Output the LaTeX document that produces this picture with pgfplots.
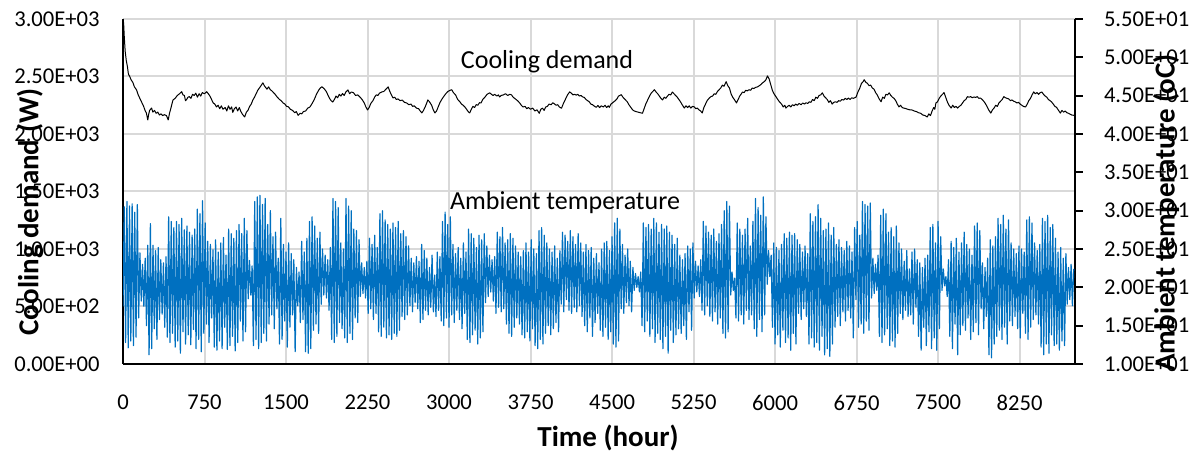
\documentclass[border=0pt]{standalone}
\usepackage{pgfplots}
\pgfplotsset{compat=1.18}
\usepackage{pgfplotstable}
\usepackage{fontspec}
\setmainfont{Carlito}
\definecolor{tblue}{HTML}{0070C0}
\definecolor{gridgray}{HTML}{D9D9D9}

\pgfplotstableread[row sep=\\]{T\\
17.5\\30.5\\12.8\\31.2\\12.1\\30.6\\13.0\\30.9\\12.4\\29.8\\
13.5\\30.8\\16.0\\24.5\\18.2\\23.0\\17.5\\23.8\\15.0\\25.5\\
11.2\\28.3\\12.0\\25.5\\14.6\\24.8\\13.2\\25.2\\15.8\\23.6\\
16.5\\23.2\\14.8\\24.0\\13.5\\29.2\\12.8\\28.6\\14.0\\27.8\\
12.2\\28.6\\13.0\\28.2\\11.4\\29.0\\14.2\\27.5\\12.6\\28.0\\
13.8\\27.2\\12.5\\26.8\\14.5\\27.6\\12.0\\30.2\\13.2\\29.6\\
11.6\\31.3\\14.0\\28.4\\15.2\\26.0\\12.8\\25.6\\16.0\\24.9\\
12.2\\26.2\\11.8\\24.6\\13.0\\25.8\\12.0\\26.5\\14.8\\24.2\\
11.9\\27.6\\12.4\\27.0\\13.6\\26.4\\11.7\\27.4\\12.8\\28.2\\
15.6\\27.0\\13.0\\29.0\\14.2\\27.4\\18.5\\23.5\\19.0\\22.8\\
12.4\\31.2\\13.2\\31.8\\12.0\\32.0\\12.8\\30.8\\14.0\\31.6\\
13.0\\28.2\\15.2\\30.0\\16.4\\26.6\\14.6\\27.2\\17.2\\23.8\\
12.6\\29.0\\13.2\\25.6\\15.6\\24.6\\12.2\\25.8\\14.8\\24.4\\
16.4\\23.6\\11.6\\22.6\\17.6\\22.0\\15.4\\26.0\\15.8\\24.6\\
11.6\\26.4\\11.4\\28.6\\12.0\\29.2\\14.4\\28.0\\15.2\\26.4\\
14.0\\27.2\\17.8\\25.0\\19.0\\24.2\\18.6\\23.6\\17.0\\25.2\\
13.2\\31.6\\12.8\\31.2\\13.6\\30.4\\15.4\\25.8\\14.6\\25.0\\
13.4\\31.6\\12.8\\30.6\\14.0\\30.0\\13.2\\27.6\\16.0\\27.4\\
15.4\\26.2\\18.8\\23.2\\19.2\\22.6\\18.6\\23.4\\16.6\\26.4\\
17.2\\25.6\\15.8\\26.8\\16.6\\25.2\\14.2\\29.6\\13.6\\30.0\\
14.8\\28.8\\13.4\\28.2\\13.8\\27.6\\13.2\\28.4\\14.0\\27.8\\
13.6\\28.6\\14.4\\27.0\\16.2\\27.4\\15.8\\26.6\\16.4\\25.4\\
17.6\\23.8\\16.8\\23.2\\18.0\\24.0\\17.2\\23.4\\15.4\\25.6\\
15.8\\24.8\\17.0\\23.8\\16.4\\22.6\\17.4\\24.2\\16.8\\21.6\\
16.2\\24.6\\17.0\\24.0\\15.6\\28.6\\15.0\\29.8\\16.0\\28.2\\
14.8\\29.2\\16.4\\25.6\\15.4\\24.4\\17.0\\25.2\\15.8\\23.8\\
14.6\\25.8\\16.6\\24.6\\13.2\\27.6\\12.8\\27.0\\13.8\\26.4\\
14.4\\25.2\\12.6\\26.8\\13.4\\26.2\\14.2\\27.0\\18.0\\25.4\\
18.8\\24.2\\19.4\\23.6\\18.2\\24.0\\16.6\\27.2\\17.4\\26.6\\
16.8\\27.8\\17.2\\25.8\\15.2\\26.2\\14.0\\27.0\\13.6\\26.4\\
14.8\\25.4\\16.0\\24.6\\15.2\\24.0\\13.8\\24.8\\13.4\\25.8\\
14.2\\24.6\\13.0\\26.2\\14.6\\25.0\\12.4\\24.4\\12.0\\27.4\\
13.2\\27.8\\12.6\\26.8\\14.0\\25.8\\15.0\\25.0\\13.8\\24.6\\
14.6\\25.4\\15.4\\23.8\\14.2\\24.8\\17.8\\27.2\\16.8\\26.8\\
18.4\\26.0\\17.0\\27.4\\16.6\\26.6\\17.4\\25.6\\16.8\\27.0\\
17.6\\25.8\\16.2\\24.6\\15.0\\25.6\\14.2\\24.8\\16.0\\25.2\\
13.6\\23.8\\15.4\\24.4\\16.6\\23.2\\14.4\\25.0\\13.6\\25.8\\
14.8\\26.0\\13.2\\24.8\\14.2\\26.6\\12.6\\28.4\\12.2\\29.0\\
13.0\\27.6\\17.2\\25.6\\16.6\\24.2\\18.0\\25.0\\17.6\\23.4\\
16.8\\22.6\\19.6\\21.8\\20.0\\21.4\\19.4\\22.0\\15.0\\28.4\\
14.2\\27.8\\15.6\\28.2\\13.6\\27.6\\14.6\\29.0\\12.8\\28.4\\
14.0\\27.2\\13.2\\28.2\\12.0\\27.6\\13.6\\28.0\\11.4\\27.2\\
14.4\\26.8\\12.8\\25.6\\13.8\\26.4\\14.6\\24.2\\14.0\\23.6\\
15.0\\24.4\\13.2\\25.4\\16.8\\25.0\\14.4\\25.8\\18.6\\23.4\\
19.4\\22.8\\18.8\\23.6\\17.0\\28.6\\16.4\\28.0\\17.6\\27.2\\
16.2\\26.8\\15.6\\27.6\\16.8\\26.0\\15.2\\27.0\\16.0\\28.2\\
14.0\\30.0\\13.4\\31.2\\14.2\\30.6\\19.0\\22.0\\19.6\\21.2\\
16.0\\28.4\\15.6\\27.6\\16.4\\26.8\\15.2\\27.6\\17.0\\29.0\\
15.8\\25.4\\16.4\\28.6\\14.6\\31.6\\13.6\\30.4\\15.8\\29.4\\
14.2\\31.8\\16.4\\29.2\\20.4\\24.8\\21.4\\24.2\\14.8\\25.8\\
12.6\\25.2\\13.8\\24.8\\12.2\\25.6\\14.4\\27.0\\12.8\\26.4\\
13.4\\27.2\\11.8\\26.8\\14.0\\27.0\\12.6\\26.2\\16.6\\25.6\\
15.8\\24.6\\17.2\\25.4\\16.2\\24.4\\12.6\\29.6\\13.4\\28.6\\
12.2\\29.2\\12.8\\30.8\\11.8\\29.0\\13.6\\27.4\\11.2\\27.6\\
12.0\\28.4\\11.0\\26.8\\12.6\\27.8\\14.8\\25.6\\16.2\\26.2\\
15.0\\25.2\\16.8\\24.8\\15.6\\26.0\\17.0\\25.4\\16.0\\24.6\\
13.4\\27.8\\18.4\\28.6\\14.8\\26.8\\15.2\\31.2\\14.0\\30.8\\
15.6\\30.6\\14.4\\31.0\\18.6\\23.8\\19.2\\23.0\\19.6\\24.2\\
13.6\\29.4\\12.8\\30.2\\13.8\\29.6\\14.6\\27.2\\12.4\\27.8\\
13.0\\26.6\\12.2\\28.0\\14.0\\25.8\\16.6\\25.0\\15.8\\23.4\\
17.0\\24.8\\16.2\\22.4\\16.4\\24.6\\15.2\\25.0\\17.4\\23.6\\
13.6\\23.2\\11.8\\22.6\\14.8\\23.8\\12.4\\24.2\\14.2\\27.8\\
12.0\\28.2\\13.4\\25.8\\11.8\\28.6\\14.6\\26.6\\19.6\\22.4\\
20.2\\21.4\\18.8\\23.6\\13.6\\26.0\\12.0\\25.2\\15.2\\26.4\\
11.2\\24.6\\13.8\\25.8\\15.0\\27.2\\14.4\\25.6\\16.0\\25.0\\
13.2\\24.2\\14.2\\28.0\\15.4\\28.4\\13.8\\27.4\\17.2\\23.2\\
14.6\\22.6\\16.2\\23.8\\11.2\\26.2\\10.8\\25.4\\12.6\\26.6\\
13.6\\29.0\\14.4\\28.2\\13.2\\29.4\\14.8\\27.6\\12.6\\28.8\\
15.6\\25.8\\15.0\\25.0\\16.2\\24.4\\14.6\\25.4\\13.4\\25.0\\
16.6\\24.6\\14.0\\28.8\\13.2\\29.2\\14.8\\28.4\\15.8\\25.8\\
16.4\\24.8\\15.2\\25.6\\12.2\\29.0\\11.2\\28.6\\12.6\\29.4\\
11.4\\27.8\\13.8\\28.2\\12.4\\26.4\\12.6\\24.6\\11.8\\25.2\\
13.0\\23.8\\12.4\\24.4\\17.8\\22.6\\18.4\\23.0\\17.6\\22.4\\
}\tempdata

\begin{document}
\begin{tikzpicture}
\path[use as bounding box] (-61.5pt,-44.5pt) rectangle (534.5pt,182pt);
\begin{axis}[
  at={(0,0)}, anchor=south west,
  scale only axis, width=476pt, height=172.5pt,
  xmin=0, xmax=8760, ymin=0, ymax=3000,
  axis x line*=bottom, axis y line*=left,
  axis line style={-, line width=0.9pt, black},
  xtick={0,750,1500,2250,3000,3750,4500,5250,6000,6750,7500,8250},
  xticklabels={0,750,1500,2250,3000,3750,4500,5250,6000,6750,7500,8250},
  ytick={0,500,1000,1500,2000,2500,3000},
  yticklabels={0.00E+00,5.00E+02,1.00E+03,1.50E+03,2.00E+03,2.50E+03,3.00E+03},
  major tick length=0pt,
  xmajorgrids, ymajorgrids,
  grid style={gridgray, line width=1pt},
  tick label style={font=\fontsize{11.3}{13}\selectfont, inner sep=0pt},
  xticklabel style={anchor=center, yshift=-19.3pt},
  yticklabel style={anchor=east, xshift=-11.5pt},
  xlabel={Time (hour)},
  xlabel style={font=\fontsize{14.5}{16}\selectfont\bfseries, at={(axis description cs:0.5095,-0.2145)}, anchor=center},
  ylabel={Cooling demand (W)},
  ylabel style={font=\fontsize{14.5}{16}\selectfont\bfseries, at={(axis description cs:-0.0977,0.4406)}, anchor=center, rotate=0},
]
\addplot[black, line width=0.5pt, line join=round] coordinates {
(0,3000)(6,2960)(12,2840)(20,2720)(30,2640)(40,2590)(50,2520)(62,2500)(75,2470)(90,2450)(105,2410)(125,2383)(140,2340)(160,2300)(175,2270)(190,2240)(205,2200)(215,2183)(228,2122)(236,2170)(245,2205)(263,2226)(275,2190)(290,2205)(305,2180)(320,2190)(335,2165)(350,2175)(365,2160)(380,2168)(400,2160)(416,2122)(428,2180)(440,2222)(450,2260)(460,2296)(480,2310)(500,2335)(520,2350)(540,2368)(552,2340)(565,2335)(575,2290)(585,2300)(598,2320)(610,2325)(625,2310)(640,2345)(655,2335)(670,2355)(685,2320)(700,2350)(715,2330)(730,2360)(750,2350)(770,2368)(785,2350)(800,2330)(815,2300)(830,2270)(845,2260)(860,2235)(875,2250)(890,2220)(905,2245)(920,2215)(940,2230)(955,2200)(970,2245)(985,2215)(1000,2235)(1010,2188)(1025,2220)(1040,2235)(1055,2200)(1070,2230)(1085,2195)(1100,2170)(1120,2148)(1135,2190)(1150,2205)(1165,2240)(1180,2260)(1195,2296)(1210,2320)(1225,2350)(1240,2380)(1255,2400)(1270,2420)(1287,2445)(1300,2420)(1312,2405)(1325,2390)(1340,2410)(1355,2385)(1370,2375)(1385,2360)(1400,2345)(1420,2320)(1440,2300)(1455,2290)(1473,2270)(1490,2260)(1505,2240)(1520,2238)(1540,2215)(1560,2205)(1580,2185)(1595,2195)(1612,2162)(1630,2180)(1645,2175)(1660,2195)(1680,2200)(1700,2225)(1720,2235)(1740,2265)(1760,2300)(1780,2345)(1800,2380)(1815,2400)(1830,2410)(1850,2395)(1870,2370)(1885,2340)(1900,2310)(1915,2290)(1930,2278)(1945,2300)(1960,2330)(1975,2315)(1990,2345)(2005,2330)(2020,2352)(2035,2335)(2050,2365)(2070,2383)(2085,2350)(2100,2365)(2120,2360)(2140,2335)(2160,2340)(2180,2322)(2200,2300)(2220,2270)(2235,2235)(2250,2209)(2265,2230)(2280,2265)(2300,2290)(2315,2320)(2330,2340)(2345,2335)(2360,2355)(2380,2365)(2400,2370)(2420,2390)(2440,2410)(2455,2370)(2470,2340)(2485,2313)(2500,2320)(2515,2300)(2530,2305)(2550,2290)(2570,2295)(2590,2275)(2610,2270)(2630,2255)(2650,2260)(2665,2240)(2680,2245)(2700,2225)(2720,2220)(2735,2200)(2750,2183)(2765,2205)(2780,2235)(2795,2270)(2805,2296)(2820,2280)(2840,2250)(2855,2210)(2870,2183)(2885,2200)(2900,2235)(2915,2270)(2930,2296)(2950,2325)(2970,2350)(2990,2370)(3010,2380)(3025,2385)(3040,2360)(3060,2340)(3080,2300)(3100,2280)(3115,2260)(3130,2250)(3150,2230)(3165,2210)(3180,2190)(3190,2183)(3205,2215)(3220,2240)(3235,2230)(3250,2255)(3265,2250)(3280,2272)(3295,2270)(3310,2300)(3330,2320)(3350,2345)(3375,2358)(3390,2345)(3405,2335)(3420,2345)(3440,2330)(3455,2340)(3465,2322)(3480,2335)(3500,2340)(3520,2350)(3540,2335)(3560,2345)(3575,2340)(3590,2320)(3610,2305)(3630,2290)(3650,2270)(3665,2250)(3680,2235)(3700,2240)(3715,2220)(3730,2230)(3750,2215)(3770,2225)(3790,2200)(3810,2210)(3830,2180)(3845,2215)(3860,2225)(3875,2205)(3890,2235)(3905,2240)(3920,2260)(3940,2255)(3955,2272)(3970,2262)(3985,2250)(4000,2255)(4015,2235)(4035,2224)(4050,2260)(4070,2300)(4090,2340)(4110,2366)(4125,2355)(4140,2340)(4155,2345)(4170,2338)(4185,2345)(4200,2330)(4215,2335)(4230,2322)(4245,2318)(4260,2300)(4275,2290)(4290,2280)(4305,2260)(4320,2255)(4340,2240)(4355,2232)(4370,2248)(4385,2230)(4400,2245)(4420,2235)(4435,2250)(4450,2230)(4465,2245)(4475,2232)(4490,2260)(4510,2275)(4530,2290)(4545,2305)(4560,2330)(4585,2342)(4600,2320)(4620,2300)(4640,2280)(4655,2255)(4670,2235)(4690,2209)(4705,2200)(4720,2195)(4740,2190)(4760,2185)(4780,2180)(4795,2220)(4810,2260)(4830,2300)(4845,2330)(4860,2355)(4875,2370)(4890,2385)(4905,2365)(4920,2350)(4935,2330)(4950,2310)(4965,2296)(4980,2320)(4995,2310)(5010,2330)(5025,2345)(5040,2340)(5055,2365)(5070,2350)(5085,2335)(5100,2320)(5115,2300)(5130,2280)(5145,2255)(5165,2226)(5180,2245)(5195,2230)(5210,2245)(5225,2225)(5240,2240)(5257,2236)(5270,2220)(5285,2225)(5300,2210)(5315,2200)(5330,2183)(5345,2230)(5360,2260)(5375,2290)(5395,2313)(5410,2325)(5425,2330)(5440,2350)(5455,2345)(5470,2370)(5485,2385)(5500,2400)(5515,2425)(5530,2415)(5550,2455)(5565,2420)(5580,2400)(5595,2350)(5610,2320)(5625,2300)(5645,2270)(5660,2300)(5675,2330)(5690,2350)(5700,2365)(5715,2360)(5730,2380)(5745,2375)(5760,2385)(5775,2380)(5790,2400)(5805,2395)(5820,2405)(5840,2410)(5855,2420)(5870,2430)(5885,2445)(5900,2455)(5915,2470)(5930,2505)(5945,2480)(5960,2430)(5975,2380)(5990,2350)(6010,2322)(6025,2300)(6040,2280)(6060,2260)(6075,2235)(6090,2250)(6100,2225)(6115,2240)(6130,2250)(6145,2235)(6160,2255)(6175,2245)(6190,2260)(6205,2250)(6220,2265)(6240,2255)(6255,2270)(6270,2260)(6285,2272)(6300,2265)(6315,2280)(6330,2275)(6345,2300)(6360,2290)(6375,2320)(6390,2310)(6405,2335)(6420,2340)(6435,2358)(6450,2330)(6465,2315)(6480,2300)(6495,2275)(6510,2290)(6525,2260)(6540,2275)(6555,2280)(6570,2275)(6585,2290)(6600,2285)(6615,2300)(6630,2295)(6645,2310)(6660,2300)(6675,2312)(6690,2300)(6705,2315)(6720,2310)(6745,2320)(6760,2360)(6780,2400)(6795,2440)(6810,2455)(6820,2472)(6835,2450)(6850,2440)(6865,2420)(6880,2425)(6895,2400)(6910,2390)(6925,2360)(6940,2340)(6955,2310)(6975,2280)(6990,2320)(7005,2310)(7020,2345)(7035,2340)(7050,2358)(7065,2335)(7080,2320)(7095,2310)(7110,2290)(7125,2260)(7140,2236)(7155,2250)(7170,2230)(7185,2225)(7200,2222)(7220,2215)(7240,2210)(7260,2209)(7280,2200)(7300,2195)(7320,2185)(7340,2180)(7360,2165)(7380,2160)(7400,2148)(7415,2175)(7430,2160)(7445,2200)(7460,2230)(7470,2215)(7480,2270)(7495,2280)(7510,2310)(7525,2330)(7540,2345)(7555,2360)(7570,2320)(7585,2280)(7600,2250)(7620,2226)(7635,2250)(7650,2230)(7665,2240)(7680,2225)(7695,2240)(7710,2250)(7725,2270)(7740,2290)(7755,2300)(7770,2325)(7785,2320)(7800,2325)(7815,2315)(7830,2322)(7845,2318)(7860,2325)(7875,2310)(7890,2313)(7905,2300)(7920,2285)(7935,2265)(7950,2240)(7965,2210)(7985,2182)(8000,2210)(8015,2225)(8030,2250)(8045,2240)(8060,2270)(8075,2285)(8090,2300)(8105,2325)(8120,2315)(8135,2310)(8150,2305)(8165,2290)(8180,2296)(8195,2285)(8210,2280)(8225,2270)(8240,2275)(8255,2260)(8270,2250)(8285,2240)(8305,2235)(8320,2260)(8335,2290)(8350,2310)(8365,2340)(8380,2366)(8395,2350)(8410,2360)(8425,2345)(8440,2360)(8455,2365)(8470,2345)(8485,2330)(8500,2320)(8515,2300)(8530,2290)(8545,2278)(8560,2260)(8575,2240)(8590,2232)(8605,2210)(8625,2182)(8640,2205)(8655,2190)(8670,2200)(8685,2185)(8700,2180)(8715,2172)(8730,2165)(8745,2163)(8760,2158)
};
\node[font=\fontsize{13}{15}\selectfont, anchor=center] at (axis description cs:0.4454,0.8754) {Cooling demand};
\node[font=\fontsize{13}{15}\selectfont, anchor=center] at (axis description cs:0.4643,0.4667) {Ambient temperature};
\end{axis}
\begin{axis}[
  at={(0,0)}, anchor=south west,
  scale only axis, width=476pt, height=172.5pt,
  xmin=0, xmax=8760, ymin=10, ymax=55,
  axis x line=none, axis y line*=right,
  axis line style={-, line width=0.9pt, black},
  ytick={10,15,20,25,30,35,40,45,50,55},
  yticklabels={1.00E+01,1.50E+01,2.00E+01,2.50E+01,3.00E+01,3.50E+01,4.00E+01,4.50E+01,5.00E+01,5.50E+01},
  tick align=outside, major tick length=3.8pt,
  ytick style={black, line width=0.9pt},
  tick label style={font=\fontsize{11.3}{13}\selectfont, inner sep=0pt},
  yticklabel style={anchor=west, xshift=10.5pt},
  ylabel={Ambient temperature (oC)},
  ylabel style={font=\fontsize{14.5}{16}\selectfont\bfseries, at={(axis description cs:1.0956,0.4377)}, anchor=center, rotate=0},
]
\addplot[tblue, line width=0.6pt, line join=round] table[x expr=\coordindex*12, y=T] {\tempdata};
\end{axis}
\end{tikzpicture}
\end{document}
